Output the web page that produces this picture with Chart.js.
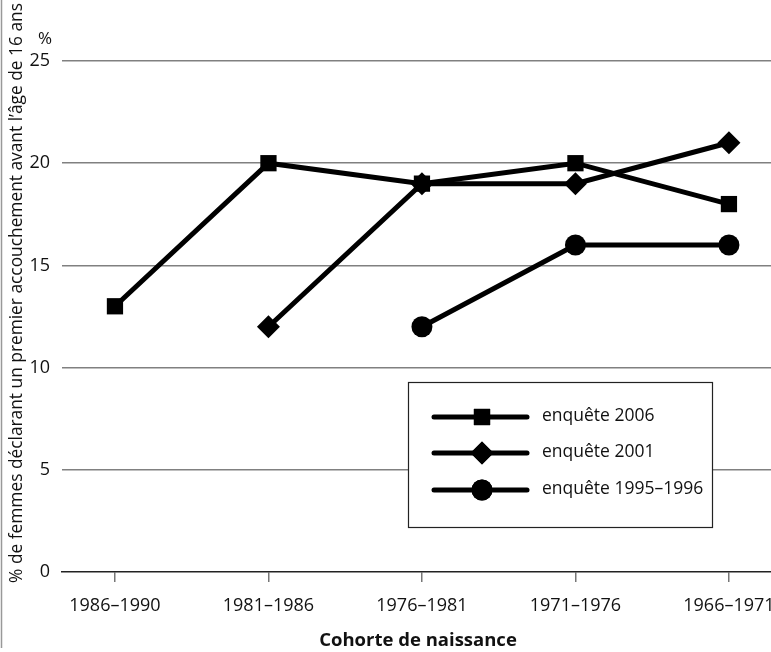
<!DOCTYPE html>
<html><head><meta charset="utf-8">
<script src="https://cdn.jsdelivr.net/npm/chart.js@4/dist/chart.umd.min.js"></script>
<style>html,body{margin:0;padding:0;background:#fff;overflow:hidden;}#wrap{width:771px;height:652px;position:relative;}canvas{display:block;}</style>
</head><body><div id="wrap"><canvas id="c" width="771" height="652"></canvas></div>
<script>
const categories = ['1986–1990','1981–1986','1976–1981','1971–1976','1966–1971'];
const enquete2006 = [13, 20, 19, 20, 18];
const enquete2001 = [null, 12, 19, 19, 21];
const enquete1995 = [null, null, 12, 16, 16];
const seriesNames = ['enquête 2006','enquête 2001','enquête 1995–1996'];
const yTicks = [0,5,10,15,20,25];
const yTitle = '% de femmes déclarant un premier accouchement avant l’âge de 16 ans';
const xTitle = 'Cohorte de naissance';
const FONT = '"Open Sans", "Noto Sans", sans-serif';

function pts(arr){ return arr.map((v,i)=>({x:i,y:v})); }

const overlay = {
  id:'overlay',
  afterDraw(chart){
    const ctx = chart.ctx;
    ctx.save();
    ctx.strokeStyle = '#999'; ctx.lineWidth = 1.5;
    ctx.beginPath(); ctx.moveTo(1.5,0); ctx.lineTo(1.5,648); ctx.stroke();
    ctx.fillStyle = '#111';
    ctx.font = '15px ' + FONT;
    const w = ctx.measureText(yTitle).width;
    const fs = 15 * 580 / w;
    ctx.font = fs.toFixed(2) + 'px ' + FONT;
    ctx.translate(17, 293); ctx.rotate(-Math.PI/2);
    ctx.textAlign='center'; ctx.textBaseline='middle';
    ctx.fillText(yTitle, 0, 0);
    ctx.restore();
    ctx.save();
    ctx.fillStyle = '#111';
    ctx.font = '17px ' + FONT;
    ctx.textAlign='center'; ctx.textBaseline='middle';
    ctx.fillText('%', 45, 39);
    ctx.font = 'bold 18.5px ' + FONT;
    ctx.fillText(xTitle, 418, 641);
    const bx=408, by=382, bw=304, bh=145;
    ctx.strokeStyle='#222'; ctx.lineWidth=1.2;
    ctx.fillStyle='#fff';
    ctx.fillRect(bx,by,bw,bh);
    ctx.strokeRect(bx+0.5,by+0.5,bw,bh);
    const rows=[417,453,490];
    chart.data.datasets.forEach((ds,i)=>{
      const y=rows[i];
      ctx.strokeStyle='#000'; ctx.lineWidth=5; ctx.lineCap='round';
      ctx.beginPath(); ctx.moveTo(434,y); ctx.lineTo(527,y); ctx.stroke();
      ctx.fillStyle='#000';
      Chart.helpers.drawPoint(ctx,{pointStyle:ds.pointStyle,radius:ds.pointRadius,rotation:0,borderWidth:0},482,y);
      ctx.fill();
      ctx.font='17.5px '+FONT; ctx.textAlign='left'; ctx.textBaseline='middle';
      ctx.fillStyle='#111';
      ctx.fillText(ds.label,542,y-1);
    });
    ctx.restore();
  }
};

const common = {borderColor:'#000', backgroundColor:'#000', borderWidth:5, pointBorderWidth:0, pointBackgroundColor:'#000', spanGaps:false, tension:0, borderCapStyle:'round'};

new Chart(document.getElementById('c'), {
  type:'line',
  data:{datasets:[
    Object.assign({label:seriesNames[0], data:pts(enquete2006), pointStyle:'rect', pointRadius:11.5},common),
    Object.assign({label:seriesNames[1], data:pts(enquete2001), pointStyle:'rectRot', pointRadius:11.5},common),
    Object.assign({label:seriesNames[2], data:pts(enquete1995), pointStyle:'circle', pointRadius:10.5},common)
  ]},
  options:{
    responsive:false, animation:false, devicePixelRatio:1,
    layout:{autoPadding:false, padding:{top:61,right:0,bottom:0,left:0}},
    plugins:{legend:{display:false}, tooltip:{enabled:false}},
    scales:{
      x:{type:'linear', min:-0.345, max:4.274,
        afterBuildTicks(s){ s.ticks = categories.map((c,i)=>({value:i})); },
        afterFit(s){ s.height = 80; s.paddingLeft = 0; s.paddingRight = 0; },
        ticks:{callback:(v)=>categories[v]||'', color:'#111', font:{family:FONT,size:18}, padding:13, maxRotation:0, autoSkip:false},
        grid:{drawOnChartArea:false, drawTicks:true, tickLength:10, color:'#777', lineWidth:1.5},
        border:{display:true, color:'#222', width:1.5}
      },
      y:{min:0, max:25,
        afterBuildTicks(s){ s.ticks = yTicks.map(v=>({value:v})); },
        afterFit(s){ s.width = 62; s.paddingTop = 0; s.paddingBottom = 0; },
        ticks:{color:'#111', font:{family:FONT,size:18}, padding:12},
        grid:{drawTicks:false, color:(c)=>c.tick.value===0?'rgba(0,0,0,0)':'#808080', lineWidth:1.5},
        border:{display:false}
      }
    }
  },
  plugins:[overlay]
});
</script></body></html>
